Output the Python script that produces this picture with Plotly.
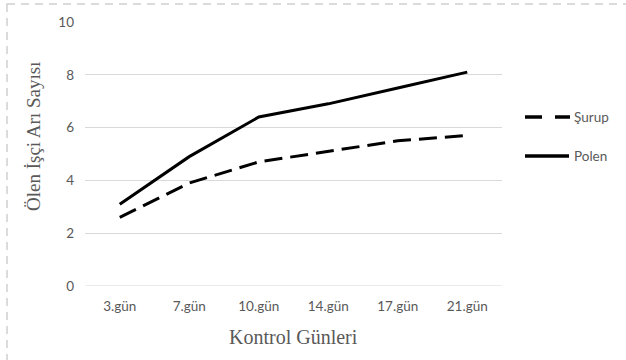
import plotly.graph_objects as go

days = ["3.gün", "7.gün", "10.gün", "14.gün", "17.gün", "21.gün"]
surup = [2.6, 3.9, 4.7, 5.1, 5.5, 5.7]
polen = [3.1, 4.9, 6.4, 6.9, 7.5, 8.1]
y_ticks = [0, 2, 4, 6, 8, 10]
series_names = ["Şurup", "Polen"]
x_title = "Kontrol Günleri"
y_title = "Ölen İşçi Arı Sayısı"

W, H = 626, 360
L, R, T, B = 85, 124, 22, 74
pw, ph = W - L - R, H - T - B
GRAY = "#595959"
SERIF = "Liberation Serif, Times New Roman, serif"
SANS = "Lato, Open Sans, sans-serif"

fig = go.Figure()
fig.add_trace(go.Scatter(x=days, y=surup, name=series_names[0], mode="lines",
                         line=dict(color="black", width=3, dash="18px,8px")))
fig.add_trace(go.Scatter(x=days, y=polen, name=series_names[1], mode="lines",
                         line=dict(color="black", width=3)))


def px_x(p):
    return (p - L) / pw


def px_y(p):
    return 1 - (p - T) / ph


# outer dashed border
fig.add_shape(type="rect", xref="paper", yref="paper",
              x0=px_x(7), x1=px_x(700), y0=px_y(4), y1=px_y(400),
              line=dict(color="#d0d0d0", width=1.5, dash="8px,6px"),
              fillcolor="rgba(0,0,0,0)", layer="below")

# custom legend
leg_rows = [117, 156]
for seg in [(525, 542), (555, 570)]:
    fig.add_shape(type="line", xref="paper", yref="paper",
                  x0=px_x(seg[0]), x1=px_x(seg[1]),
                  y0=px_y(leg_rows[0]), y1=px_y(leg_rows[0]),
                  line=dict(color="black", width=3.5))
fig.add_shape(type="line", xref="paper", yref="paper",
              x0=px_x(525), x1=px_x(569),
              y0=px_y(leg_rows[1]), y1=px_y(leg_rows[1]),
              line=dict(color="black", width=3.5))
for name, row in zip(series_names, leg_rows):
    fig.add_annotation(text=name, xref="paper", yref="paper",
                       x=px_x(572), y=px_y(row), xanchor="left", yanchor="middle",
                       showarrow=False, font=dict(family=SANS, size=13.5, color=GRAY))

# axis titles
fig.add_annotation(text=x_title, xref="paper", yref="paper",
                   x=px_x(293), y=px_y(337), xanchor="center", yanchor="middle",
                   showarrow=False, font=dict(family=SERIF, size=20, color=GRAY))
fig.add_annotation(text=y_title, xref="paper", yref="paper", textangle=-90,
                   x=px_x(33), y=px_y(137), xanchor="center", yanchor="middle",
                   showarrow=False, font=dict(family=SERIF, size=19, color=GRAY))

fig.update_layout(
    width=W, height=H,
    margin=dict(l=L, r=R, t=T, b=B),
    paper_bgcolor="white", plot_bgcolor="white",
    font=dict(family=SANS, size=13.5, color=GRAY),
    showlegend=False,
    xaxis=dict(type="category", showgrid=False, showline=False, zeroline=False,
               ticks="", tickfont=dict(size=13.5, color=GRAY),
               ticklabelstandoff=10, range=[-0.5, 5.5]),
    yaxis=dict(range=[0, 10], tickvals=y_ticks, showgrid=True, gridcolor="#d9d9d9",
               gridwidth=1, zeroline=False, showline=False, ticks="",
               tickfont=dict(size=13.5, color=GRAY), ticklabelstandoff=10),
)
fig.add_hline(y=0, line=dict(color="#d9d9d9", width=1), layer="below")

fig.write_html("out.html", config={"displayModeBar": False},
               post_script="document.body.style.margin='0';document.body.style.overflow='hidden';")
